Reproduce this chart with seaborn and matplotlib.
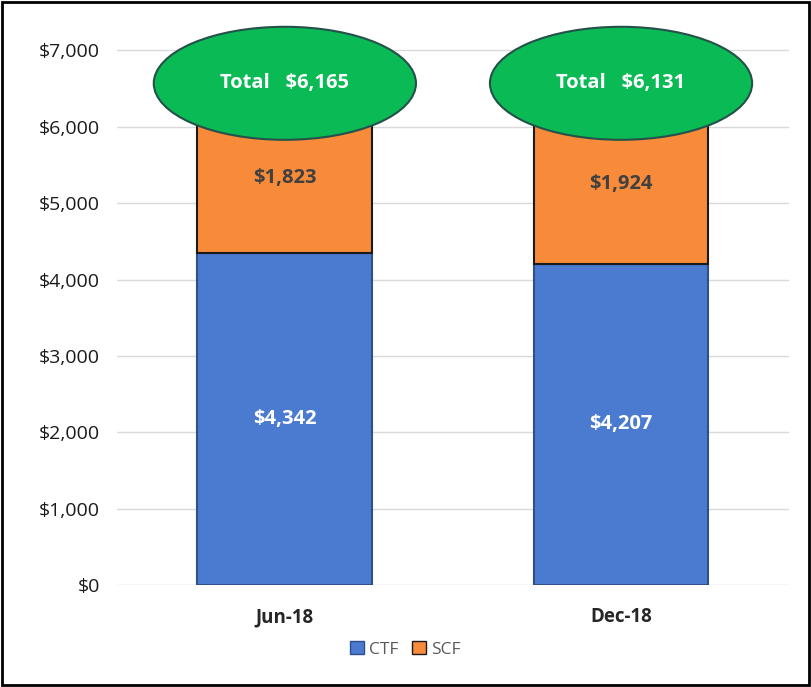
import numpy as np
import pandas as pd
import seaborn as sns
import matplotlib.pyplot as plt
from matplotlib.patches import Ellipse, Patch, Rectangle

sns.set_style('white')
plt.rcParams['font.family'] = ['Open Sans', 'DejaVu Sans']

# data
periods = ['Jun-18', 'Dec-18']
ctf = [4342, 4207]
scf = [1823, 1924]
totals = [6165, 6131]

df = pd.DataFrame({'period': periods, 'CTF': ctf, 'SCF': scf})

fig = plt.figure(figsize=(8.11, 6.87), dpi=100)
ax = fig.add_axes([0.144, 0.1485, 0.829, 0.8225])

blue = '#4A7BD0'
orange = '#F78B3A'
green = '#0ABA55'

sns.barplot(data=df, x='period', y='CTF', color=blue, width=0.52,
            edgecolor='#2E4F8A', linewidth=1.5, saturation=1, ax=ax)
sns.barplot(data=df, x='period', y='SCF', color=orange, width=0.52,
            bottom=df['CTF'], edgecolor='#1a1a1a', linewidth=1.5,
            saturation=1, ax=ax)

# labels inside bars
for i in range(len(periods)):
    ax.text(i, ctf[i] / 2, f'${ctf[i]:,}', ha='center', va='center',
            color='white', fontsize=14.5, fontweight='bold')
    ax.text(i, ctf[i] + scf[i] / 2 + 80, f'${scf[i]:,}', ha='center', va='center',
            color='#404040', fontsize=14.5, fontweight='bold')
    # total ellipse
    ell = Ellipse((i, 6570), 0.78, 1480, facecolor=green, edgecolor='#24514A',
                  linewidth=1.5, zorder=5)
    ax.add_patch(ell)
    ax.text(i, 6570, f'Total   ${totals[i]:,}', ha='center', va='center',
            color='white', fontsize=14.5, fontweight='bold', zorder=6)

ax.set_ylim(0, 7400)
ax.set_xlim(-0.5, 1.5)
ax.set_yticks(range(0, 7001, 1000))
ax.set_yticklabels([f'${v:,}' for v in range(0, 7001, 1000)], fontsize=14, color='#1a1a1a')
ax.yaxis.grid(True, color='#D9D9D9', linewidth=1)
ax.set_axisbelow(True)
ax.set_xlabel('')
ax.set_ylabel('')
ax.tick_params(axis='x', labelsize=13.5, pad=16)
for lbl in ax.get_xticklabels():
    lbl.set_fontweight('bold')
ax.tick_params(length=0)
ax.tick_params(axis='y', pad=12)
sns.despine(ax=ax, left=True, bottom=True)

handles = [Patch(facecolor=blue, edgecolor='#2E4F8A', label='CTF'),
           Patch(facecolor=orange, edgecolor='#1a1a1a', label='SCF')]
fig.legend(handles=handles, loc='center', bbox_to_anchor=(0.5, 0.055), ncol=2,
           frameon=False, fontsize=12.5, handlelength=0.8, handleheight=0.8,
           handletextpad=0.3, columnspacing=0.8, labelcolor='#595959')

# figure border
fig.patches.append(Rectangle((0.003, 0.003), 0.994, 0.994, transform=fig.transFigure,
                             fill=False, edgecolor='black', linewidth=2))

plt.savefig('out.png', dpi=100)
